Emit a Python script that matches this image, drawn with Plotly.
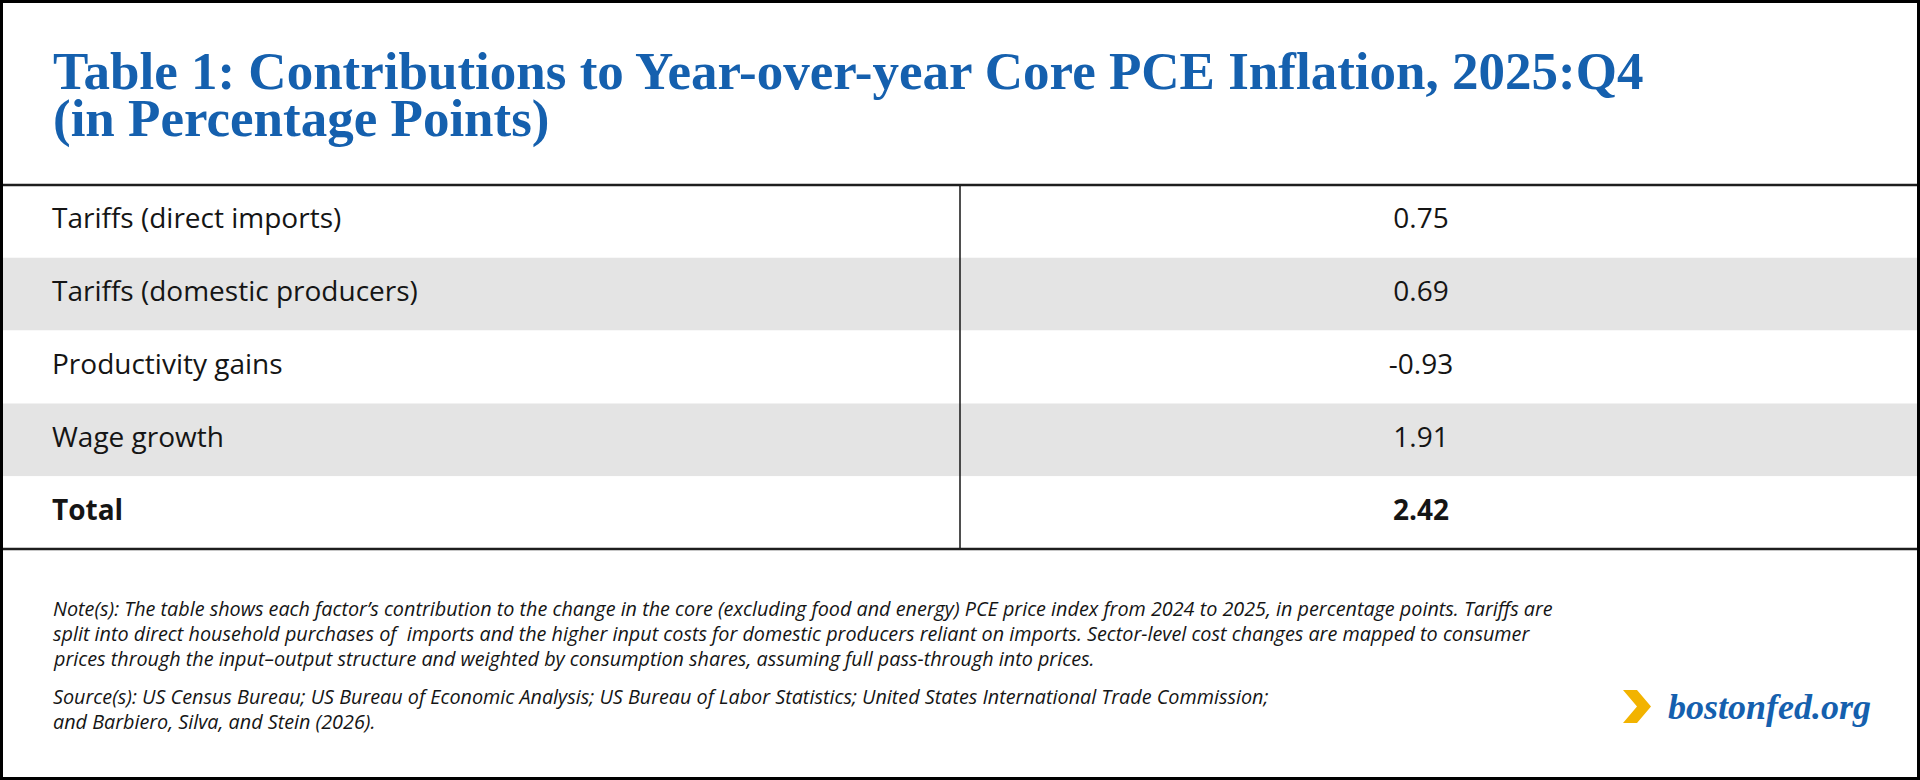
import plotly.graph_objects as go

# table data
factors = ["Tariffs (direct imports)", "Tariffs (domestic producers)",
           "Productivity gains", "Wage growth", "Total"]
contributions = [0.75, 0.69, -0.93, 1.91, 2.42]

title_lines = ["Table 1: Contributions to Year-over-year Core PCE Inflation, 2025:Q4",
               "(in Percentage Points)"]
note_lines = [
    "Note(s): The table shows each factor’s contribution to the change in the core (excluding food and energy) PCE price index from 2024 to 2025, in percentage points. Tariffs are",
    "split into direct household purchases of  imports and the higher input costs for domestic producers reliant on imports. Sector-level cost changes are mapped to consumer",
    "prices through the input–output structure and weighted by consumption shares, assuming full pass-through into prices.",
    "Source(s): US Census Bureau; US Bureau of Economic Analysis; US Bureau of Labor Statistics; United States International Trade Commission;",
    "and Barbiero, Silva, and Stein (2026).",
]

W, H = 1920, 780
BLUE = "#1560ae"
GRAY = "#e4e4e4"
INK = "#151515"


def px_x(x):
    return x / W


def px_y(y):
    return 1 - y / H


rows = list(range(len(factors)))
labels = [f"<b>{f}</b>" if f == "Total" else f for f in factors]
values = [f"<b>{v:.2f}</b>" if f == "Total" else f"{v:.2f}"
          for f, v in zip(factors, contributions)]
row_fill = ["white" if i % 2 == 0 else GRAY for i in rows]

fig = go.Figure()
# zebra row bands
fig.add_trace(go.Bar(orientation="h", y=rows, x=[W] * len(rows), base=0, width=1,
                     marker=dict(color=row_fill, line=dict(width=0)),
                     hoverinfo="skip"))
# first column: factor names
fig.add_trace(go.Scatter(mode="text", y=rows, x=[52] * len(rows), text=labels,
                         textposition="middle right",
                         textfont=dict(family="Open Sans", size=28, color=INK),
                         hoverinfo="skip"))
# second column: contributions
fig.add_trace(go.Scatter(mode="text", y=rows, x=[1421] * len(rows), text=values,
                         textposition="middle center",
                         textfont=dict(family="Open Sans", size=28, color=INK),
                         hoverinfo="skip"))

# title
for line, yb in zip(title_lines, [88, 135]):
    fig.add_annotation(x=px_x(51), y=px_y(yb - 17), xref="paper", yref="paper",
                       xanchor="left", yanchor="middle", showarrow=False,
                       text=f"<b>{line}</b>",
                       font=dict(family="Liberation Serif", size=53, color=BLUE))

# notes and sources
for line, yb in zip(note_lines, [615, 640, 665, 703, 728]):
    fig.add_annotation(x=px_x(51), y=px_y(yb - 7), xref="paper", yref="paper",
                       xanchor="left", yanchor="middle", showarrow=False,
                       text=f"<i>{line}</i>",
                       font=dict(family="Open Sans", size=19.8, color=INK))

# logo
fig.add_shape(type="path", xref="paper", yref="paper",
              path=(f"M {px_x(1623)} {px_y(690)} L {px_x(1637)} {px_y(690)} "
                    f"L {px_x(1651)} {px_y(706.5)} L {px_x(1637)} {px_y(723)} "
                    f"L {px_x(1623)} {px_y(723)} L {px_x(1637)} {px_y(706.5)} Z"),
              fillcolor="#f2b300", line=dict(width=0))
fig.add_annotation(x=px_x(1666), y=px_y(707), xref="paper", yref="paper",
                   xanchor="left", yanchor="middle", showarrow=False,
                   text="<b><i>bostonfed.org</i></b>",
                   font=dict(family="Liberation Serif", size=36, color=BLUE))

# rules and frame
for yy in [185, 549]:
    fig.add_shape(type="line", xref="paper", yref="paper",
                  x0=0, x1=1, y0=px_y(yy), y1=px_y(yy),
                  line=dict(color="#1e1e1e", width=2.5))
fig.add_shape(type="line", xref="paper", yref="paper",
              x0=px_x(960), x1=px_x(960), y0=px_y(186), y1=px_y(548),
              line=dict(color=INK, width=1.5))
fig.add_shape(type="rect", xref="paper", yref="paper",
              x0=0, x1=1, y0=0, y1=1, line=dict(color="black", width=6))

fig.update_layout(
    width=W, height=H, margin=dict(l=0, r=0, t=0, b=0),
    paper_bgcolor="white", plot_bgcolor="white", showlegend=False,
    xaxis=dict(range=[0, W], visible=False, fixedrange=True, domain=[0, 1]),
    yaxis=dict(range=[len(rows) - 0.5, -0.5], visible=False, fixedrange=True,
               domain=[px_y(549), px_y(185)]),
)

fig.write_html("out.html", config={"displayModeBar": False},
               post_script="document.body.style.margin='0';document.body.style.overflow='hidden';")
